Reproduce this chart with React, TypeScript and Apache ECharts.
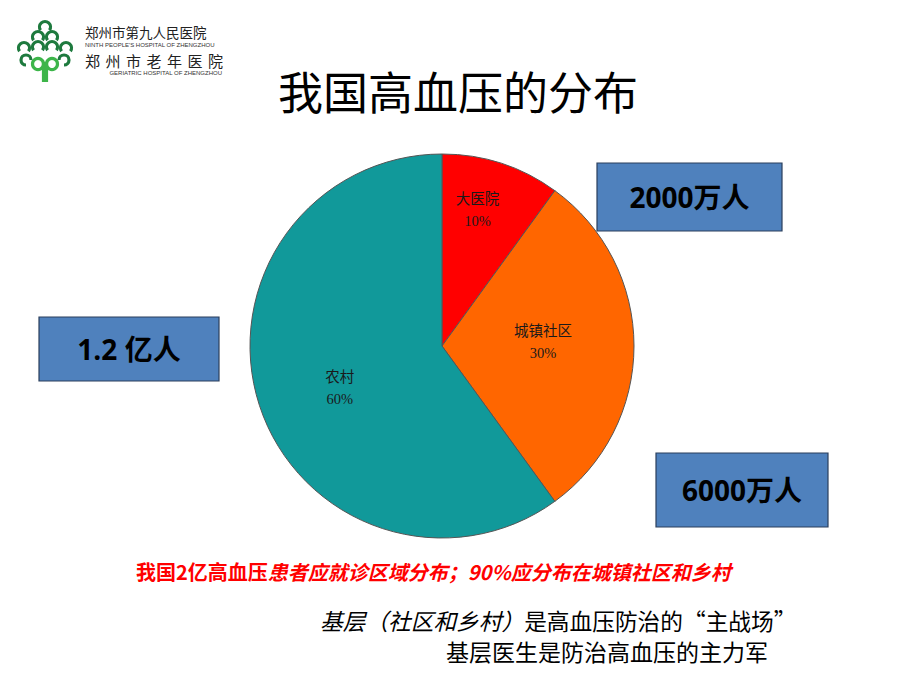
import React, { useEffect, useRef } from "react";
import * as echarts from "echarts";

const categories = ["大医院", "城镇社区", "农村"];
const shares = [10, 30, 60];
const sliceColors = ["#FF0000", "#FF6600", "#11999A"];
const calloutTexts = ["2000万人", "6000万人", "1.2 亿人"];
const titleText = "我国高血压的分布";
const noteRedA = "我国2亿高血压";
const noteRedB = "患者应就诊区域分布；90%应分布在城镇社区和乡村";
const noteLine2A = "基层（社区和乡村）";
const noteLine2B = "是高血压防治的“主战场”";
const noteLine3 = "基层医生是防治高血压的主力军";
const logoLine1 = "郑州市第九人民医院";
const logoLine2 = "NINTH PEOPLE'S HOSPITAL OF ZHENGZHOU";
const logoLine3 = "郑州市老年医院";
const logoLine4 = "GERIATRIC HOSPITAL OF ZHENGZHOU";

const labelOffsets = [
  [5, -42],
  [2, -4],
  [-8, 11],
];

const CJK = "'Noto Sans CJK SC', 'Noto Sans', sans-serif";

function box(x: number, y: number, w: number, h: number, text: string) {
  return {
    type: "group",
    children: [
      {
        type: "rect",
        shape: { x, y, width: w, height: h },
        style: { fill: "#4F81BD", stroke: "#2b3f5c", lineWidth: 1.2 },
      },
      {
        type: "text",
        x: x + w / 2,
        y: y + h / 2,
        style: {
          text,
          fontSize: 28,
          fontWeight: "bold",
          fontFamily: "'Open Sans', " + CJK,
          fill: "#000",
          align: "center",
          verticalAlign: "middle",
        },
      },
    ],
  };
}

function logo() {
  const dark = "#1E7A3E";
  const light = "#3DB54A";
  const arcs = [
    [45, 27],
    [38, 37],
    [52, 37],
    [24, 48],
    [38, 47],
    [52, 47],
    [66, 48],
  ];
  const children: any[] = arcs.map(([cx, cy]) => ({
    type: "arc",
    shape: { cx, cy, r: 5.5, startAngle: Math.PI * 0.8, endAngle: Math.PI * 2.2, clockwise: true },
    style: { stroke: dark, lineWidth: 3.2, fill: "none" },
  }));
  children.push(
    { type: "arc", shape: { cx: 26, cy: 60, r: 5, startAngle: Math.PI * 0.5, endAngle: Math.PI * 2.0, clockwise: true }, style: { stroke: dark, lineWidth: 3.2, fill: "none" } },
    { type: "arc", shape: { cx: 64, cy: 60, r: 5, startAngle: Math.PI * 1.0, endAngle: Math.PI * 2.5, clockwise: true }, style: { stroke: dark, lineWidth: 3.2, fill: "none" } },
    { type: "arc", shape: { cx: 38, cy: 64, r: 5.5, startAngle: 0, endAngle: Math.PI * 2, clockwise: true }, style: { stroke: light, lineWidth: 3.2, fill: "none" } },
    { type: "arc", shape: { cx: 52, cy: 64, r: 5.5, startAngle: 0, endAngle: Math.PI * 2, clockwise: true }, style: { stroke: light, lineWidth: 3.2, fill: "none" } },
    { type: "line", shape: { x1: 43.5, y1: 62, x2: 43.5, y2: 82 }, style: { stroke: light, lineWidth: 3.2 } },
    { type: "line", shape: { x1: 46.5, y1: 62, x2: 46.5, y2: 82 }, style: { stroke: light, lineWidth: 3.2 } }
  );
  children.push(
    { type: "text", x: 85, y: 31.5, style: { text: logoLine1, fontSize: 13.5, lineHeight: 14, fontFamily: CJK, fill: "#222", verticalAlign: "middle" } },
    { type: "text", x: 85, y: 44.5, style: { text: logoLine2, fontSize: 6, lineHeight: 6, fontFamily: "'Liberation Sans', sans-serif", fill: "#333", verticalAlign: "middle" } },
    { type: "text", x: 222, y: 72.5, style: { text: logoLine4, fontSize: 6, lineHeight: 6, fontFamily: "'Liberation Sans', sans-serif", fill: "#333", verticalAlign: "middle", align: "right" } }
  );
  const chars = logoLine3.split("");
  chars.forEach((c, i) => {
    children.push({
      type: "text",
      x: 85 + i * 20.5,
      y: 60,
      style: { text: c, fontSize: 15, lineHeight: 15, fontFamily: CJK, fill: "#222", verticalAlign: "middle" },
    });
  });
  return { type: "group", children };
}

export default function App() {
  const ref = useRef<HTMLDivElement>(null);
  useEffect(() => {
    if (!ref.current) return;
    const chart = echarts.init(ref.current, null, { renderer: "svg" });
    chart.setOption({
      animation: false,
      backgroundColor: "#ffffff",
      series: [
        {
          type: "pie",
          center: [442, 346],
          radius: 192,
          startAngle: 90,
          clockwise: true,
          silent: true,
          data: categories.map((name, i) => ({
            name,
            value: shares[i],
            itemStyle: { color: sliceColors[i] },
          })),
          itemStyle: { borderColor: "#555", borderWidth: 1 },
          label: {
            show: true,
            position: "inside",
            formatter: (p: any) => `${p.name}\n${p.value}%`,
            fontFamily: "'Liberation Serif', 'Noto Sans CJK SC', serif",
            fontSize: 14.5,
            lineHeight: 22,
            color: "#1a1a1a",
          },
          labelLayout: (p: any) => ({ dx: labelOffsets[p.dataIndex][0], dy: labelOffsets[p.dataIndex][1] }),
          labelLine: { show: false },
        },
      ],
      graphic: [
        logo(),
        {
          type: "text",
          x: 458,
          y: 90,
          style: {
            text: titleText,
            fontSize: 45,
            fontFamily: CJK,
            fill: "#000",
            align: "center",
            verticalAlign: "middle",
          },
        },
        box(597, 163, 185, 68, calloutTexts[0]),
        box(656, 453, 172, 74, calloutTexts[1]),
        box(39, 317, 180, 64, calloutTexts[2]),
        {
          type: "text",
          x: 136,
          y: 571,
          style: {
            text: `{a|${noteRedA}}{b|${noteRedB}}`,
            verticalAlign: "middle",
            rich: {
              a: { fontSize: 20, fontWeight: "bold", fontFamily: CJK, fill: "#FF0000", color: "#FF0000" },
              b: { fontSize: 20, fontWeight: "bold", fontStyle: "italic", fontFamily: CJK, fill: "#FF0000", color: "#FF0000" },
            },
          },
        },
        {
          type: "text",
          x: 320,
          y: 620,
          style: {
            text: `{a|${noteLine2A}}{b|${noteLine2B}}`,
            verticalAlign: "middle",
            rich: {
              a: { fontSize: 22.7, fontStyle: "italic", fontFamily: CJK, color: "#000" },
              b: { fontSize: 22.7, fontFamily: CJK, color: "#000" },
            },
          },
        },
        {
          type: "text",
          x: 446,
          y: 651,
          style: {
            text: noteLine3,
            fontSize: 23,
            fontFamily: CJK,
            fill: "#000",
            verticalAlign: "middle",
          },
        },
      ],
    });
    return () => chart.dispose();
  }, []);
  return (
    <div
      ref={ref}
      style={{ position: "fixed", left: 0, top: 0, width: 920, height: 690, background: "#fff" }}
    />
  );
}
